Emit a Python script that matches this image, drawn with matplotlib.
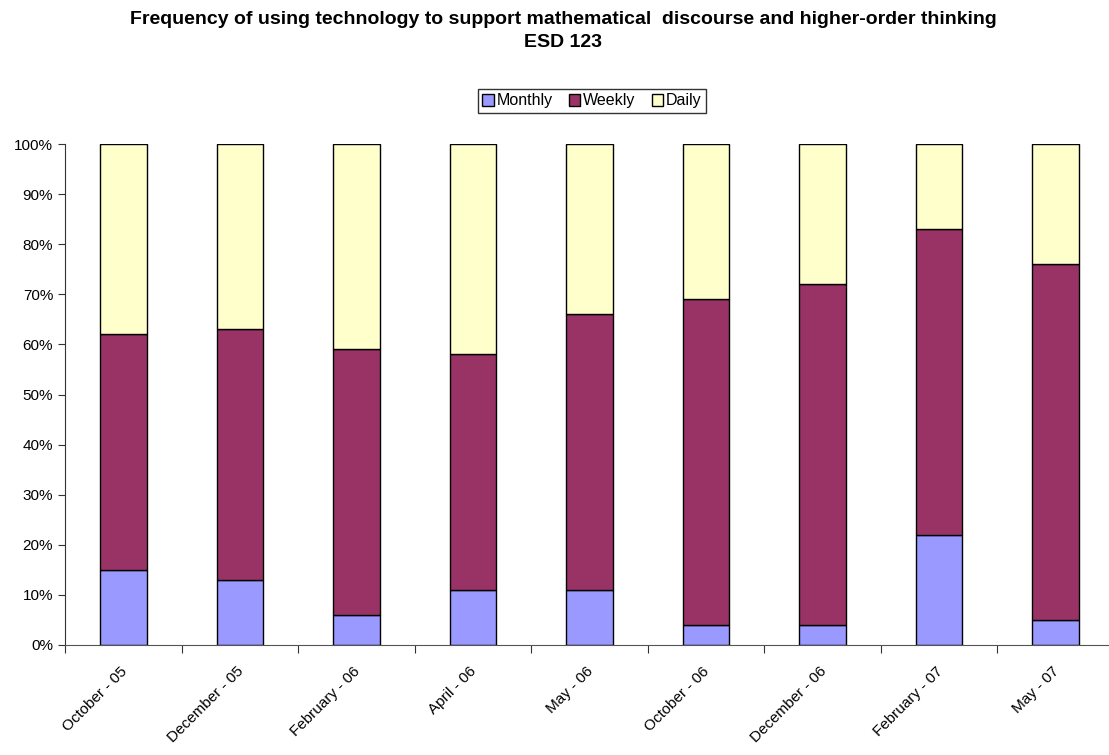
import numpy as np
import matplotlib
matplotlib.use("Agg")
import matplotlib.pyplot as plt
from matplotlib.ticker import PercentFormatter

plt.rcParams['font.family'] = ['Liberation Sans', 'DejaVu Sans']

# Data (percent of responses)
periods = ['October - 05', 'December - 05', 'February - 06', 'April - 06', 'May - 06',
           'October - 06', 'December - 06', 'February - 07', 'May - 07']
monthly = [15, 13, 6, 11, 11, 4, 4, 22, 5]
weekly = [47, 50, 53, 47, 55, 65, 68, 61, 71]
daily = [38, 37, 41, 42, 34, 31, 28, 17, 24]

colors = {'Monthly': '#9999FF', 'Weekly': '#993366', 'Daily': '#FFFFCC'}

fig = plt.figure(figsize=(11.09, 7.55), dpi=100)
ax = fig.add_axes([65 / 1109, 110 / 755, 1049 / 1109, 501 / 755])

x = np.arange(len(periods))
bottom = np.zeros(len(periods))
for name, vals in [('Monthly', monthly), ('Weekly', weekly), ('Daily', daily)]:
    ax.bar(x, vals, width=0.4, bottom=bottom, color=colors[name],
           edgecolor='black', linewidth=1.0, label=name)
    bottom += np.array(vals)

ax.set_xlim(-0.5, len(periods) - 0.5)
ax.set_ylim(0, 100)
ax.set_yticks(np.arange(0, 101, 10))
ax.yaxis.set_major_formatter(PercentFormatter(decimals=0))
ax.tick_params(axis='y', labelsize=11, length=5, color='#333333')

# category ticks between bars, labels at bar centres
ax.set_xticks(np.arange(-0.5, len(periods), 1.0))
ax.set_xticklabels([])
ax.set_xticks(x - 0.03, minor=True)
ax.set_xticklabels(periods, minor=True, rotation=45, ha='right',
                   rotation_mode='anchor', fontsize=11)
ax.tick_params(axis='x', which='major', length=6, color='#333333')
ax.tick_params(axis='x', which='minor', length=0, pad=14)

for s in ['top', 'right']:
    ax.spines[s].set_visible(False)
ax.spines['left'].set_color('#333333')
ax.spines['bottom'].set_color('#555555')

fig.text(0.508, 0.985, 'Frequency of using technology to support mathematical  discourse and higher-order thinking',
         ha='center', va='top', fontsize=14, fontweight='bold')
fig.text(0.508, 0.955, 'ESD 123', ha='center', va='top', fontsize=14, fontweight='bold')

leg = fig.legend(loc='center', bbox_to_anchor=(592 / 1109, 1 - 101 / 755), ncol=3,
                 fontsize=11.5, frameon=True, fancybox=False, edgecolor='black',
                 handlelength=0.7, handleheight=0.7, handletextpad=0.2,
                 columnspacing=1.0, borderpad=0.3, borderaxespad=0)
leg.get_frame().set_linewidth(1.0)

fig.savefig('out.png', dpi=100)
